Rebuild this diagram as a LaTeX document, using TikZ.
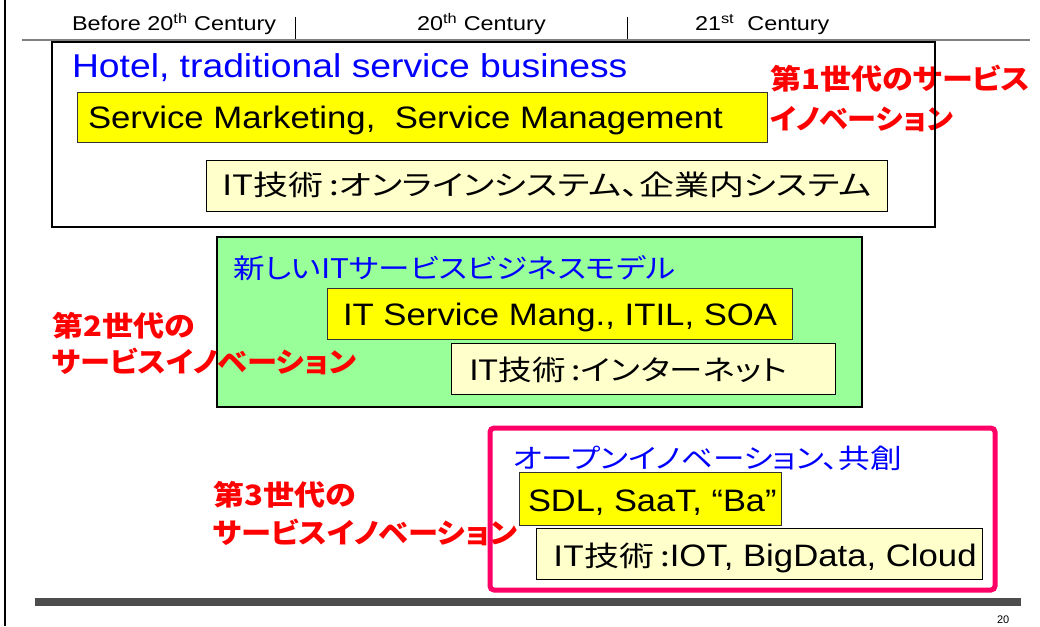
\documentclass[tikz,border=0pt]{standalone}
\usepackage{fontspec}
\setmainfont{Liberation Sans}
\newfontfamily\jp[RawFeature=+palt]{Noto Sans CJK JP}
\newcommand\hstr[2][1.17]{\scalebox{#1}[1]{#2}}
\newcommand\fsz[1]{\fontsize{#1}{#1}\selectfont}
\definecolor{tblue}{HTML}{0000FF}
\definecolor{tred}{HTML}{FF0000}
\definecolor{yel}{HTML}{FFFF00}
\definecolor{lyel}{HTML}{FFFFCC}
\definecolor{lgreen}{HTML}{99FF99}
\definecolor{pink}{HTML}{FF0066}
\definecolor{bar}{HTML}{4D4D4D}
\begin{document}
\begin{tikzpicture}[x=1pt,y=-1pt,
  txt/.style={anchor=base west, inner sep=0pt, outer sep=0pt},
  yelbox/.style={fill=yel, draw=black!80, line width=0.8pt},
  lyelbox/.style={fill=lyel, draw=black, line width=0.8pt},
  redtxt/.style={txt, text=tred, font=\jp\bfseries\fsz{28}},
  bluejp/.style={txt, text=tblue, font=\jp\fsz{27}},
  blackjp/.style={txt, font=\jp\fsz{28}},
  head/.style={txt, font=\fsz{20}}]
\useasboundingbox (0,0) rectangle (1040,626);
% frame lines
\draw[line width=2pt] (5,0) -- (5,626);
\draw[gray, line width=1.5pt] (22,40) -- (1030,40);
\draw[line width=0.8pt] (295,17) -- (295,39);
\draw[line width=0.8pt] (627,17) -- (627,39);
\node[head] (h1) at (72,31) {\hstr{Before 20\textsuperscript{th} Century}};
\node[head] (h2) at (417,31) {\hstr{20\textsuperscript{th} Century}};
\node[head] (h3) at (695,31) {\hstr{21\textsuperscript{st}\ \ Century}};
% generation 1
\node[redtxt] (r1a) at (770,89) {\hstr[1.11]{第1世代のサービス}};
\node[redtxt] (r1b) at (770,129) {\hstr[1.04]{イノベーション}};
\draw[line width=2pt] (52,42) rectangle (935,227);
\node[txt, text=tblue, font=\fsz{33}] (g1t) at (72,77) {\hstr[1.13]{Hotel, traditional service business}};
\draw[yelbox] (77,92) rectangle (767,142);
\node[txt, font=\fsz{31}] (g1a) at (88,128) {\hstr[1.12]{Service Marketing,\ \ Service Management}};
\draw[lyelbox] (206,160) rectangle (887,211);
\node[blackjp] (g1b) at (222,195) {\hstr[1.25]{IT技術\,:オンラインシステム、企業内システム}};
% generation 2
\draw[fill=lgreen, draw=black, line width=1.5pt] (217,237) rectangle (862,407);
\node[bluejp] (g2t) at (233,278) {\hstr{新しいITサービスビジネスモデル}};
\draw[yelbox] (327,288) rectangle (792,339);
\node[txt, font=\fsz{31}] (g2a) at (343,325) {\hstr[1.12]{IT Service Mang., ITIL, SOA}};
\draw[lyelbox] (451,343) rectangle (835,394);
\node[blackjp] (g2b) at (469,380) {\hstr[1.2]{IT技術\,:インターネット}};
\node[redtxt] (r2a) at (52,336) {\hstr[1.11]{第2世代の}};
\node[redtxt] (r2b) at (52,372) {\hstr[1.08]{サービスイノベーション}};
% generation 3
\node[redtxt] (r3a) at (213,505) {\hstr[1.11]{第3世代の}};
\node[redtxt] (r3b) at (213,543) {\hstr[1.08]{サービスイノベーション}};
\draw[draw=pink, line width=5pt, rounded corners=4pt] (490,428) rectangle (995,590);
\node[bluejp] (g3t) at (513,468) {\hstr{オープンイノベーション、共創}};
\draw[yelbox] (519,472) rectangle (781,525);
\node[txt, font=\fsz{31}] (g3a) at (528,511) {\hstr[1.11]{SDL, SaaT, “Ba”}};
\draw[lyelbox] (536,528) rectangle (982,579);
\node[txt] (g3b) at (553,566) {\hstr[1.25]{\jp\fsz{28}IT技術\,:}\hstr[1.12]{\fsz{31}IOT, BigData, Cloud}};
% bottom bar
\fill[bar] (35,598) rectangle (1021,606);
\node[txt, font=\fsz{11}] (pg) at (997,623) {20};
\end{tikzpicture}
\end{document}
